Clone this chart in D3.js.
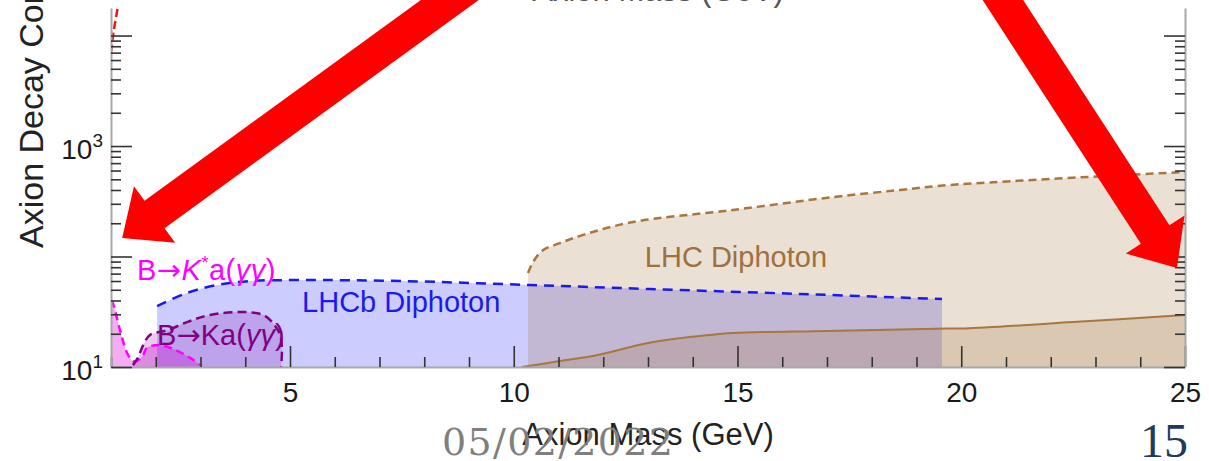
<!DOCTYPE html>
<html>
<head>
<meta charset="utf-8">
<script src="https://cdn.jsdelivr.net/npm/d3@7/dist/d3.min.js"></script>
<style>
  body { margin: 0; background: #fff; }
  svg { display: block; font-family: "Liberation Sans", Arial, sans-serif; }
</style>
</head>
<body>
<svg id="canvas" width="1209" height="461"></svg>
<script>
// data (mass in GeV, decay constant in GeV)
var massMajor = [5, 10, 15, 20, 25];
var massMinor = d3.range(1, 26).filter(function (m) { return m % 5 != 0; });
var fMajor = [10, 100, 1000, 10000];
var fLabelled = [10, 1000];

var lhcDashMass = [10.32, 10.43, 10.65, 11.03, 11.55, 12.66, 14.9, 17.13, 18.63, 19.75, 25];
var lhcDashF    = [71, 89, 114, 132, 157, 205, 264, 345, 400, 444, 582];

var lhcSolidMass = [10.18, 10.9, 11.9, 13.0, 14.0, 14.9, 17.0, 19.7, 20.1, 22.5, 25];
var lhcSolidF    = [10, 11.1, 12.9, 16.5, 18.8, 20.3, 21.2, 22.3, 22.3, 25.5, 29.6];

var lhcbMass = [2.03, 2.7, 3.37, 4.11, 5.22, 7.5, 10.36, 13.04, 16.4, 19.57];
var lhcbF    = [35.6, 46.8, 55.2, 60.0, 61.2, 60, 55.2, 50.8, 45.8, 41.2];

var kstarMass = [1.0, 1.04, 1.2, 1.36, 1.49, 1.6, 1.72, 1.8, 2.09, 2.43, 2.77, 2.99];
var kstarF    = [40, 37.9, 21.6, 13.4, 11.3, 11.5, 12.8, 14.9, 15.8, 14.3, 12.1, 10.4];

var kaMass = [1.49, 1.6, 1.72, 1.87, 2.27, 2.7, 3.21, 3.95, 4.4, 4.62, 4.78, 4.82, 4.8];
var kaF    = [10.4, 12.1, 15.8, 19.5, 21.6, 25.5, 29.6, 31.5, 29.6, 25.0, 19.5, 14.3, 10];

var redMass = [1.0, 1.06, 1.15];
var redF    = [7000, 11000, 17750];

window.app = {}

window.app.Render = function () {
  var svg = d3.select("#canvas");
  var left = 111, right = 1185, top = 8, bottom = 367;

  var x = d3.scaleLinear().domain([1, 25]).range([left, right]);
  var y = d3.scaleLog().domain([10, 17750]).range([bottom, top]);

  svg.append("defs").append("clipPath").attr("id", "plotclip")
    .append("rect").attr("x", left).attr("y", top)
    .attr("width", right - left).attr("height", bottom - top);

  var plot = svg.append("g").attr("clip-path", "url(#plotclip)");

  function pts(ms, fs) { return ms.map(function (m, i) { return [m, fs[i]]; }); }

  var area = d3.area().curve(d3.curveCatmullRom)
      .x(function (d) { return x(d[0]); })
      .y0(bottom)
      .y1(function (d) { return y(d[1]); });
  var line = d3.line().curve(d3.curveCatmullRom)
      .x(function (d) { return x(d[0]); })
      .y(function (d) { return y(d[1]); });

  // filled regions, back to front
  plot.append("path").datum(pts(lhcbMass, lhcbF)).attr("d", area)
    .attr("fill", "rgb(0,0,255)").attr("fill-opacity", 0.2);
  plot.append("path").datum(pts(kstarMass, kstarF)).attr("d", area)
    .attr("fill", "rgb(220,0,220)").attr("fill-opacity", 0.32);
  plot.append("path").datum(pts(kaMass, kaF)).attr("d", area)
    .attr("fill", "rgb(128,0,160)").attr("fill-opacity", 0.2);
  plot.append("path").datum(pts(lhcDashMass, lhcDashF)).attr("d", area)
    .attr("fill", "rgb(165,115,60)").attr("fill-opacity", 0.22);
  plot.append("path").datum(pts(lhcSolidMass, lhcSolidF)).attr("d", area)
    .attr("fill", "rgb(165,115,60)").attr("fill-opacity", 0.22);

  // boundaries
  plot.append("path").datum(pts(lhcbMass, lhcbF)).attr("d", line)
    .attr("fill", "none").attr("stroke", "#1a1aee").attr("stroke-width", 2.5)
    .attr("stroke-dasharray", "10,7");
  plot.append("path").datum(pts(lhcDashMass, lhcDashF)).attr("d", line)
    .attr("fill", "none").attr("stroke", "#a8763f").attr("stroke-width", 2.5)
    .attr("stroke-dasharray", "8,5");
  plot.append("path").datum(pts(lhcSolidMass, lhcSolidF)).attr("d", line)
    .attr("fill", "none").attr("stroke", "#a8763f").attr("stroke-width", 2);
  plot.append("path").datum(pts(kstarMass, kstarF)).attr("d", line)
    .attr("fill", "none").attr("stroke", "#ff00ff").attr("stroke-width", 2.5)
    .attr("stroke-dasharray", "8,5");
  plot.append("path").datum(pts(kaMass, kaF)).attr("d", line)
    .attr("fill", "none").attr("stroke", "#800080").attr("stroke-width", 2.5)
    .attr("stroke-dasharray", "9,5");
  plot.append("path").datum(pts(redMass, redF)).attr("d", line)
    .attr("fill", "none").attr("stroke", "#ff1010").attr("stroke-width", 2.5)
    .attr("stroke-dasharray", "8,4");

  // region labels
  var lab = plot.append("g").attr("font-size", 29);
  lab.append("text").attr("x", x(12.93)).attr("y", y(80.5)).attr("fill", "#a0703e").text("LHC Diphoton");
  lab.append("text").attr("x", x(5.27)).attr("y", y(31.5)).attr("fill", "#1a1aee").text("LHCb Diphoton");

  var t1 = svg.append("text").attr("x", x(1.58)).attr("y", y(61.2))
    .attr("font-size", 29).attr("letter-spacing", 0.5).attr("fill", "#ff00ff");
  t1.append("tspan").text("B");
  t1.append("tspan").attr("font-family", "'DejaVu Sans', sans-serif").text("\u2192");
  t1.append("tspan").attr("font-style", "italic").text("K");
  t1.append("tspan").attr("font-size", 18).attr("dy", -11).text("*");
  t1.append("tspan").attr("dy", 11).text("a(");
  t1.append("tspan").attr("font-style", "italic").text("\u03b3\u03b3");
  t1.append("tspan").text(")");

  var t2 = svg.append("text").attr("x", x(2.03)).attr("y", y(15.8))
    .attr("font-size", 29).attr("fill", "#800080");
  t2.append("tspan").text("B");
  t2.append("tspan").attr("font-family", "'DejaVu Sans', sans-serif").text("\u2192");
  t2.append("tspan").text("Ka(");
  t2.append("tspan").attr("font-style", "italic").text("\u03b3\u03b3");
  t2.append("tspan").text(")");

  // axes
  function styleAxis(g) {
    g.select(".domain").attr("stroke", "#a8a8a8").attr("stroke-width", 2);
    g.selectAll(".tick line").attr("stroke", "#333").attr("stroke-width", 1.6);
    g.selectAll(".tick text").attr("fill", "#1a1a1a").attr("font-size", 28)
      .attr("font-family", "'Liberation Sans', Arial, sans-serif");
  }

  var fMinor = [];
  fMajor.forEach(function (d) { for (var k = 2; k < 10; k++) if (d * k <= 17750) fMinor.push(d * k); });

  svg.append("g").attr("transform", "translate(0," + bottom + ")")
    .call(d3.axisBottom(x).tickValues(massMinor).tickSize(-10).tickSizeOuter(0).tickFormat(""))
    .call(styleAxis);
  svg.append("g").attr("transform", "translate(0," + bottom + ")")
    .call(d3.axisBottom(x).tickValues(massMajor).tickSize(-21).tickSizeOuter(0).tickPadding(15))
    .call(styleAxis)
    .call(function (g) { g.select(".domain").remove(); });

  svg.append("g").attr("transform", "translate(" + left + ",0)")
    .call(d3.axisLeft(y).tickValues(fMinor).tickSize(-10).tickSizeOuter(0).tickFormat(""))
    .call(styleAxis);
  var yl = svg.append("g").attr("transform", "translate(" + left + ",0)")
    .call(d3.axisLeft(y).tickValues(fMajor).tickSize(-21).tickSizeOuter(0).tickPadding(8).tickFormat(""))
    .call(styleAxis)
    .call(function (g) { g.select(".domain").remove(); });
  yl.selectAll(".tick text").filter(function (d) { return fLabelled.indexOf(d) >= 0; })
    .attr("dy", "0.45em")
    .each(function (d) {
      var t = d3.select(this);
      t.append("tspan").text("10");
      t.append("tspan").attr("font-size", 19).attr("dy", "-0.65em").text(Math.round(Math.log10(d)));
    });

  svg.append("g").attr("transform", "translate(" + right + ",0)")
    .call(d3.axisRight(y).tickValues(fMinor).tickSize(-10).tickSizeOuter(0).tickFormat(""))
    .call(styleAxis);
  svg.append("g").attr("transform", "translate(" + right + ",0)")
    .call(d3.axisRight(y).tickValues(fMajor).tickSize(-21).tickSizeOuter(0).tickFormat(""))
    .call(styleAxis)
    .call(function (g) { g.select(".domain").remove(); });

  // axis titles
  svg.append("text").attr("x", (left + right) / 2).attr("y", 445)
    .attr("text-anchor", "middle").attr("font-size", 31).attr("fill", "#222")
    .text("Axion Mass (GeV)");
  svg.append("text").attr("x", 658).attr("y", 1)
    .attr("text-anchor", "middle").attr("font-size", 31).attr("fill", "#555")
    .text("Axion Mass (GeV)");
  svg.append("text").attr("transform", "translate(43,248) rotate(-90)")
    .attr("font-size", 34).attr("fill", "#222")
    .text("Axion Decay Constant (GeV)");

  // slide footer
  svg.append("text").attr("x", 442).attr("y", 455)
    .attr("font-family", "'DejaVu Serif', serif").attr("font-size", 38)
    .attr("textLength", 231).attr("fill", "#7f7f7f").text("05/02/2022");
  svg.append("text").attr("x", 1188).attr("y", 457).attr("text-anchor", "end")
    .attr("font-family", "'Liberation Serif', serif").attr("font-size", 48)
    .attr("fill", "#1f3a5c").text("15");

  // big red arrows (tip in data space, direction and size in pixels)
  var arrows = [
    {m: 1.25, f: 147, ang: 144, len: 460},
    {m: 24.82, f: 78.7, ang: 57, len: 360}
  ];
  var sw = 34, hw = 70, hl = 40;
  arrows.forEach(function (a) {
    var shape = [[0, 0], [-hl, hw / 2], [-hl, sw / 2], [-a.len, sw / 2],
                 [-a.len, -sw / 2], [-hl, -sw / 2], [-hl, -hw / 2]];
    svg.append("polygon")
      .attr("points", shape.map(function (p) { return p.join(","); }).join(" "))
      .attr("transform", "translate(" + x(a.m) + "," + y(a.f) + ") rotate(" + a.ang + ")")
      .attr("fill", "#ff0000");
  });
}

window.app.Render();
</script>
</body>
</html>
